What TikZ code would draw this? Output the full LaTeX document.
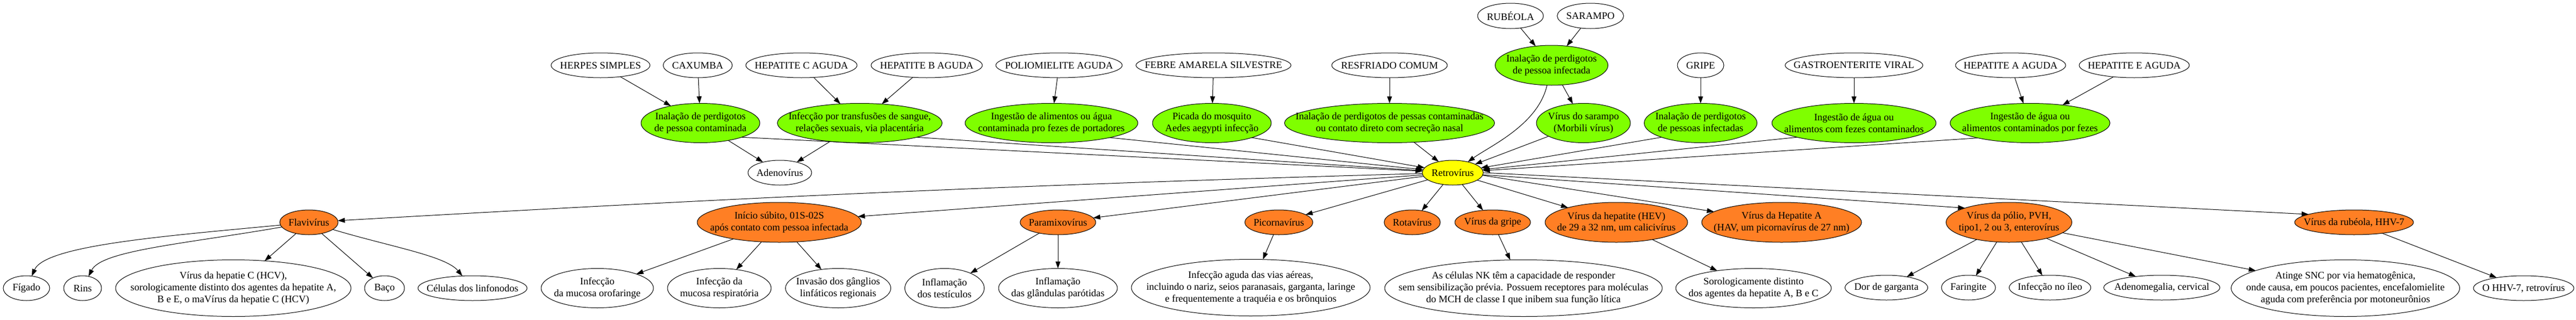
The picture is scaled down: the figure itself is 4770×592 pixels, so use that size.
\documentclass[tikz,border=0pt]{standalone}
\usepackage{fontspec}
\setmainfont{Liberation Serif}
\usetikzlibrary{shapes.geometric,arrows.meta}
\definecolor{vgreen}{HTML}{7FFF00}
\definecolor{vorange}{HTML}{FF7F24}
\definecolor{vyellow}{HTML}{FFFF00}
\newcommand\vfont{\fontsize{18.5}{21.7}\selectfont}
\tikzset{
  vn/.style={ellipse, draw, line width=1pt, inner sep=0pt, outer sep=0pt},
  wnode/.style={vn, fill=white},
  gnode/.style={vn, fill=vgreen},
  onode/.style={vn, fill=vorange},
  ynode/.style={vn, fill=vyellow},
  lbl/.style={align=center, inner sep=0pt, font=\vfont},
  txt/.style={label={[lbl]center:{#1}}},
  sz/.style 2 args={minimum width=#1pt, minimum height=#2pt},
  arr/.style={line width=1pt, -{Triangle[length=13pt,width=9pt]}},
}
\begin{document}
\begin{tikzpicture}[x=1pt,y=-1pt]
\useasboundingbox (0,0) rectangle (4770,592);
% top row
\node[wnode, sz={183}{46}, txt={HERPES SIMPLES}] (herpes) at (1112,121) {};
\node[wnode, sz={128}{46}, txt={CAXUMBA}] (caxumba) at (1292,121) {};
\node[wnode, sz={206}{46}, txt={HEPATITE C AGUDA}] (hepc) at (1484,121) {};
\node[wnode, sz={206}{46}, txt={HEPATITE B AGUDA}] (hepb) at (1716,121) {};
\node[wnode, sz={234}{46}, txt={POLIOMIELITE AGUDA}] (polio0) at (1961,121) {};
\node[wnode, sz={287}{46}, txt={FEBRE AMARELA SILVESTRE}] (febre) at (2247,121) {};
\node[wnode, sz={214}{46}, txt={RESFRIADO COMUM}] (resfr) at (2573,121) {};
\node[wnode, sz={122}{47}, txt={RUBÉOLA}] (rubeola) at (2797,29.5) {};
\node[wnode, sz={123}{47}, txt={SARAMPO}] (sarampo) at (2945,29.5) {};
\node[gnode, sz={209}{74}, txt={Inalação de perdigotos\\de pessoa infectada}] (gtop) at (2873,121) {};
\node[wnode, sz={86}{46}, txt={GRIPE}] (gripe0) at (3149,121) {};
\node[wnode, sz={255}{46}, txt={GASTROENTERITE VIRAL}] (gastro) at (3433,121) {};
\node[wnode, sz={204}{46}, txt={HEPATITE A AGUDA}] (hepa0) at (3723,121) {};
\node[wnode, sz={204}{46}, txt={HEPATITE E AGUDA}] (hepe0) at (3952,121) {};
% green row
\node[gnode, sz={220}{73}, txt={Inalação de perdigotos\\de pessoa contaminada}] (g1) at (1297,228) {};
\node[gnode, sz={305}{73}, txt={Infecção por transfusões de sangue,\\relações sexuais, via placentária}] (g2) at (1592,228) {};
\node[gnode, sz={320}{73}, txt={Ingestão de alimentos ou água\\contaminada pro fezes de portadores}] (g3) at (1947,228) {};
\node[gnode, sz={220}{73}, txt={Picada do mosquito\\Aedes aegypti infecção}] (g4) at (2244,228) {};
\node[gnode, sz={389}{73}, txt={Inalação de perdigotos de pessas contaminadas\\ou contato direto com secreção nasal}] (g5) at (2573,228) {};
\node[gnode, sz={174}{73}, txt={Vírus do sarampo\\(Morbili vírus)}] (sar) at (2932,228) {};
\node[gnode, sz={209}{73}, txt={Inalação de perdigotos\\de pessoas infectadas}] (g7) at (3149,228) {};
\node[gnode, sz={304}{73}, txt={Ingestão de água ou\\alimentos com fezes contaminados}] (g8) at (3433,228) {};
\node[gnode, sz={296}{73}, txt={Ingestão de água ou\\alimentos contaminados por fezes}] (g9) at (3759,228) {};
% middle
\node[wnode, sz={118}{46}, txt={Adenovírus}] (adeno) at (1444,320) {};
\node[ynode, sz={113}{46}, txt={Retrovírus}] (retro) at (2690,320) {};
% orange row
\node[onode, sz={108}{46}, txt={Flavivírus}] (flav) at (572,412) {};
\node[onode, sz={304}{74}, txt={Início súbito, 01S-02S\\após contato com pessoa infectada}] (inicio) at (1443,412) {};
\node[onode, sz={140}{46}, txt={Paramixovírus}] (paramixo) at (1959,412) {};
\node[onode, sz={126}{46}, txt={Picornavírus}] (picorna) at (2368,412) {};
\node[onode, sz={104}{46}, txt={Rotavírus}] (rota) at (2615,412) {};
\node[onode, sz={140}{46}, txt={Vírus da gripe}] (vgripe) at (2764,412) {};
\node[onode, sz={264}{74}, txt={Vírus da hepatite (HEV)\\de 29 a 32 nm, um calicivírus}] (hev) at (2993,412) {};
\node[onode, sz={296}{74}, txt={Vírus da Hepatite A\\(HAV, um picornavírus de 27 nm)}] (hav) at (3299,412) {};
\node[onode, sz={233}{74}, txt={Vírus da pólio, PVH,\\tipo1, 2 ou 3, enterovírus}] (vpolio) at (3720,412) {};
\node[onode, sz={220}{46}, txt={Vírus da rubéola, HHV-7}] (vrub) at (4359,412) {};
% bottom row
\node[wnode, sz={86}{46}, txt={Fígado}] (figado) at (49,534) {};
\node[wnode, sz={70}{46}, txt={Rins}] (rins) at (153,534) {};
\node[wnode, sz={436}{105}, txt={Vírus da hepatie C (HCV),\\sorologicamente distinto dos agentes da hepatite A,\\B e E, o maVírus da hepatie C (HCV)}] (hcv) at (432,534) {};
\node[wnode, sz={74}{46}, txt={Baço}] (baco) at (712,534) {};
\node[wnode, sz={202}{46}, txt={Células dos linfonodos}] (celulas) at (875,534) {};
\node[wnode, sz={208}{73}, txt={Infecção\\da mucosa orofaringe}] (oro) at (1106,534) {};
\node[wnode, sz={192}{73}, txt={Infecção da\\mucosa respiratória}] (resp) at (1332,534) {};
\node[wnode, sz={195}{73}, txt={Invasão dos gânglios\\linfáticos regionais}] (invasao) at (1552,534) {};
\node[wnode, sz={147}{73}, txt={Inflamação\\dos testículos}] (testic) at (1749,534) {};
\node[wnode, sz={220}{73}, txt={Inflamação\\das glândulas parótidas}] (parot) at (1959,534) {};
\node[wnode, sz={442}{105}, txt={Infecção aguda das vias aéreas,\\incluindo o nariz, seios paranasais, garganta, laringe\\e frequentemente a traquéia e os brônquios}] (aguda) at (2316,533) {};
\node[wnode, sz={514}{105}, txt={As células NK têm a capacidade de responder\\sem sensibilização prévia. Possuem receptores para moléculas\\do MCH de classe I que inibem sua função lítica}] (nk) at (2821,534) {};
\node[wnode, sz={288}{73}, txt={Sorologicamente distinto\\dos agentes da hepatite A, B e C}] (soro) at (3247,534) {};
\node[wnode, sz={153}{46}, txt={Dor de garganta}] (dor) at (3493,533) {};
\node[wnode, sz={100}{46}, txt={Faringite}] (faring) at (3645,533) {};
\node[wnode, sz={151}{46}, txt={Infecção no íleo}] (ileo) at (3796,533) {};
\node[wnode, sz={215}{46}, txt={Adenomegalia, cervical}] (adenom) at (4003,533) {};
\node[wnode, sz={423}{105}, txt={Atinge SNC por via hematogênica,\\onde causa, em poucos pacientes, encefalomielite\\aguda com preferência por motoneurônios}] (snc) at (4343,534) {};
\node[wnode, sz={186}{46}, txt={O HHV-7, retrovírus}] (hhv) at (4673,534) {};
% edges top -> green
\draw[arr] (herpes) -- (g1);
\draw[arr] (caxumba) -- (g1);
\draw[arr] (hepc) -- (g2);
\draw[arr] (hepb) -- (g2);
\draw[arr] (polio0) -- (g3);
\draw[arr] (febre) -- (g4);
\draw[arr] (resfr) -- (g5);
\draw[arr] (rubeola) -- (gtop);
\draw[arr] (sarampo) -- (gtop);
\draw[arr] (gtop) -- (sar);
\draw[arr] (gripe0) -- (g7);
\draw[arr] (gastro) -- (g8);
\draw[arr] (hepa0) -- (g9);
\draw[arr] (hepe0) -- (g9);
% green -> adenovirus / retrovirus
\draw[arr] (g1) -- (adeno);
\draw[arr] (g2) -- (adeno);
\draw[arr] (g1.-19) -- (retro);
\draw[arr] (g2.-14) -- (retro);
\draw[arr] (g3.-14) -- (retro);
\draw[arr] (g4.-20) -- (retro);
\draw[arr] (g5) -- (retro);
\draw[arr] (gtop) .. controls +(-25,110) and +(70,-50) .. (retro);
\draw[arr] (sar) -- (retro);
\draw[arr] (g7.200) -- (retro);
\draw[arr] (g8.194) -- (retro);
\draw[arr] (g9.196) -- (retro);
% retrovirus -> families
\draw[arr] (retro) .. controls +(-900,25) and +(700,-40) .. (flav);
\draw[arr] (retro) -- (inicio);
\draw[arr] (retro) -- (paramixo);
\draw[arr] (retro) -- (picorna);
\draw[arr] (retro) -- (rota);
\draw[arr] (retro) -- (vgripe);
\draw[arr] (retro) -- (hev);
\draw[arr] (retro.-5) -- (hav);
\draw[arr] (retro.-4) -- (vpolio.162);
\draw[arr] (retro.0) -- (vrub.170);
% families -> effects
\draw[arr] (flav) .. controls +(-260,25) and +(35,-80) .. (figado);
\draw[arr] (flav) .. controls +(-230,40) and +(35,-70) .. (rins);
\draw[arr] (flav) -- (hcv);
\draw[arr] (flav) -- (baco);
\draw[arr] (flav) .. controls +(150,45) and +(-50,-60) .. (celulas);
\draw[arr] (inicio) -- (oro);
\draw[arr] (inicio) -- (resp);
\draw[arr] (inicio) -- (invasao);
\draw[arr] (paramixo) -- (testic);
\draw[arr] (paramixo) -- (parot);
\draw[arr] (picorna) -- (aguda);
\draw[arr] (vgripe) -- (nk);
\draw[arr] (hev) -- (soro);
\draw[arr] (vpolio) -- (dor);
\draw[arr] (vpolio) -- (faring);
\draw[arr] (vpolio) -- (ileo);
\draw[arr] (vpolio) -- (adenom);
\draw[arr] (vpolio) -- (snc);
\draw[arr] (vrub) -- (hhv);
\end{tikzpicture}
\end{document}
